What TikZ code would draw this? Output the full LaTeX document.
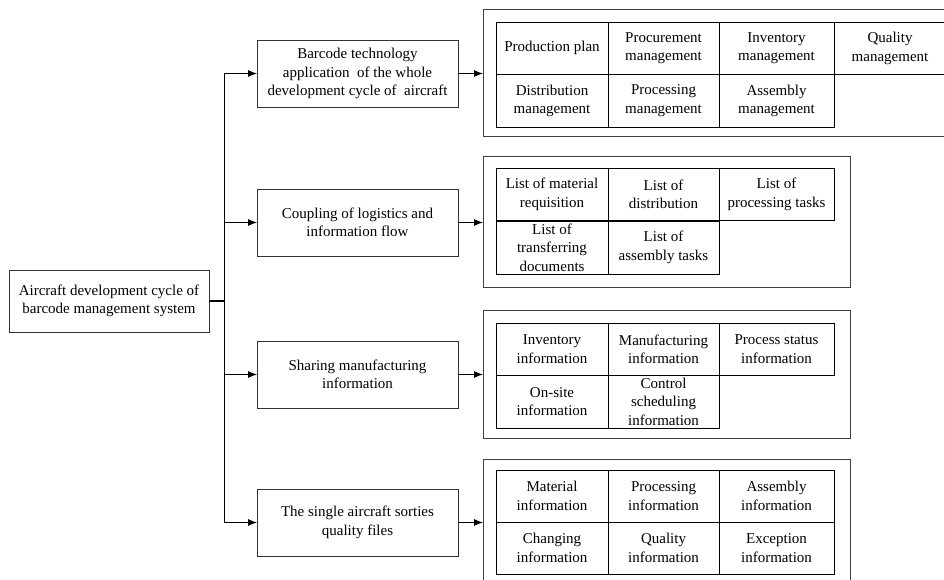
\documentclass[tikz,border=0pt]{standalone}
\usepackage{fontspec}
\setmainfont{Liberation Serif}
\usetikzlibrary{arrows.meta, positioning}

\begin{document}
\begin{tikzpicture}[x=1pt, y=-1pt, >={Latex[length=9pt,width=7pt]},
  every node/.style={font=\fontsize{15}{18.5}\selectfont, align=center, inner sep=0pt, outer sep=0pt},
  box/.style={draw=black!80, line width=0.8pt, minimum width=201pt, minimum height=67pt},
  frame/.style={draw=black!75, line width=1pt, anchor=north west, minimum width=367pt},
  cell/.style={draw, line width=0.8pt, anchor=north west, minimum width=#1, minimum height=52.5pt},
  cell/.default=112]
  \clip (0,0) rectangle (944,580);

  % root and second level
  \node[box, minimum width=200pt, minimum height=62pt] (root) at (109,301)
    {Aircraft development cycle of\\barcode management system};
  \node[box] (b1) at (357.5,73.5) {Barcode technology\\application \ of the whole\\development cycle of \ aircraft};
  \node[box] (b2) at (357.5,222.5) {Coupling of logistics and\\information flow};
  \node[box] (b3) at (357.5,374.5) {Sharing manufacturing\\information};
  \node[box] (b4) at (357.5,522.5) {The single aircraft sorties\\quality files};

  % frames
  \node[frame, minimum width=472pt, minimum height=127pt] (f1) at (483,10) {};
  \node[frame, minimum height=130pt] (f2) at (483,157) {};
  \node[frame, minimum height=128pt] (f3) at (483,310) {};
  \node[frame, minimum height=136pt] (f4) at (483,459) {};

  % cells of frame 1
  \foreach \x/\w/\t [count=\i] in {496/112/{Production plan}, 608/111/{Procurement\\management},
      719/115/{Inventory\\management}, 834/112/{Quality\\management}}
    \node[cell=\w] (pa\i) at (\x,22) {\t};
  \foreach \x/\w/\t [count=\i] in {496/112/{Distribution\\management}, 608/111/{Processing\\management},
      719/115/{Assembly\\management}}
    \node[cell=\w] (pb\i) at (\x,74.5) {\t};

  % cells of frame 2
  \foreach \x/\w/\t [count=\i] in {496/112/{List of material\\requisition}, 608/111/{List of\\distribution},
      719/115/{List of\\processing tasks}}
    \node[cell=\w] (la\i) at (\x,168) {\t};
  \foreach \x/\w/\t [count=\i] in {496/112/{List of\\transferring\\documents}, 608/111/{List of\\assembly tasks}}
    \node[cell=\w, minimum height=53pt] (lb\i) at (\x,221) {\t};

  % cells of frame 3
  \foreach \x/\w/\t [count=\i] in {496/112/{Inventory\\information}, 608/111/{Manufacturing\\information},
      719/115/{Process status\\information}}
    \node[cell=\w] (ma\i) at (\x,323) {\t};
  \foreach \x/\w/\t [count=\i] in {496/112/{On-site\\information}, 608/111/{Control\\scheduling\\information}}
    \node[cell=\w] (mb\i) at (\x,375.5) {\t};

  % cells of frame 4
  \foreach \x/\w/\t [count=\i] in {496/112/{Material\\information}, 608/111/{Processing\\information},
      719/115/{Assembly\\information}}
    \node[cell=\w, minimum height=52pt] (qa\i) at (\x,470) {\t};
  \foreach \x/\w/\t [count=\i] in {496/112/{Changing\\information}, 608/111/{Quality\\information},
      719/115/{Exception\\information}}
    \node[cell=\w, minimum height=52pt] (qb\i) at (\x,522) {\t};

  % connectors
  \coordinate (trunk) at (224,301);
  \draw[line width=1.2pt] (root.east) -- (trunk);
  \foreach \b in {b1,b2,b3,b4}
    \draw[->, line width=0.9pt] (trunk) |- (\b.west);
  \foreach \b/\f in {b1/f1,b2/f2,b3/f3,b4/f4}
    \draw[->, line width=0.9pt] (\b.east) -- (\b.east -| \f.west);
\end{tikzpicture}
\end{document}
